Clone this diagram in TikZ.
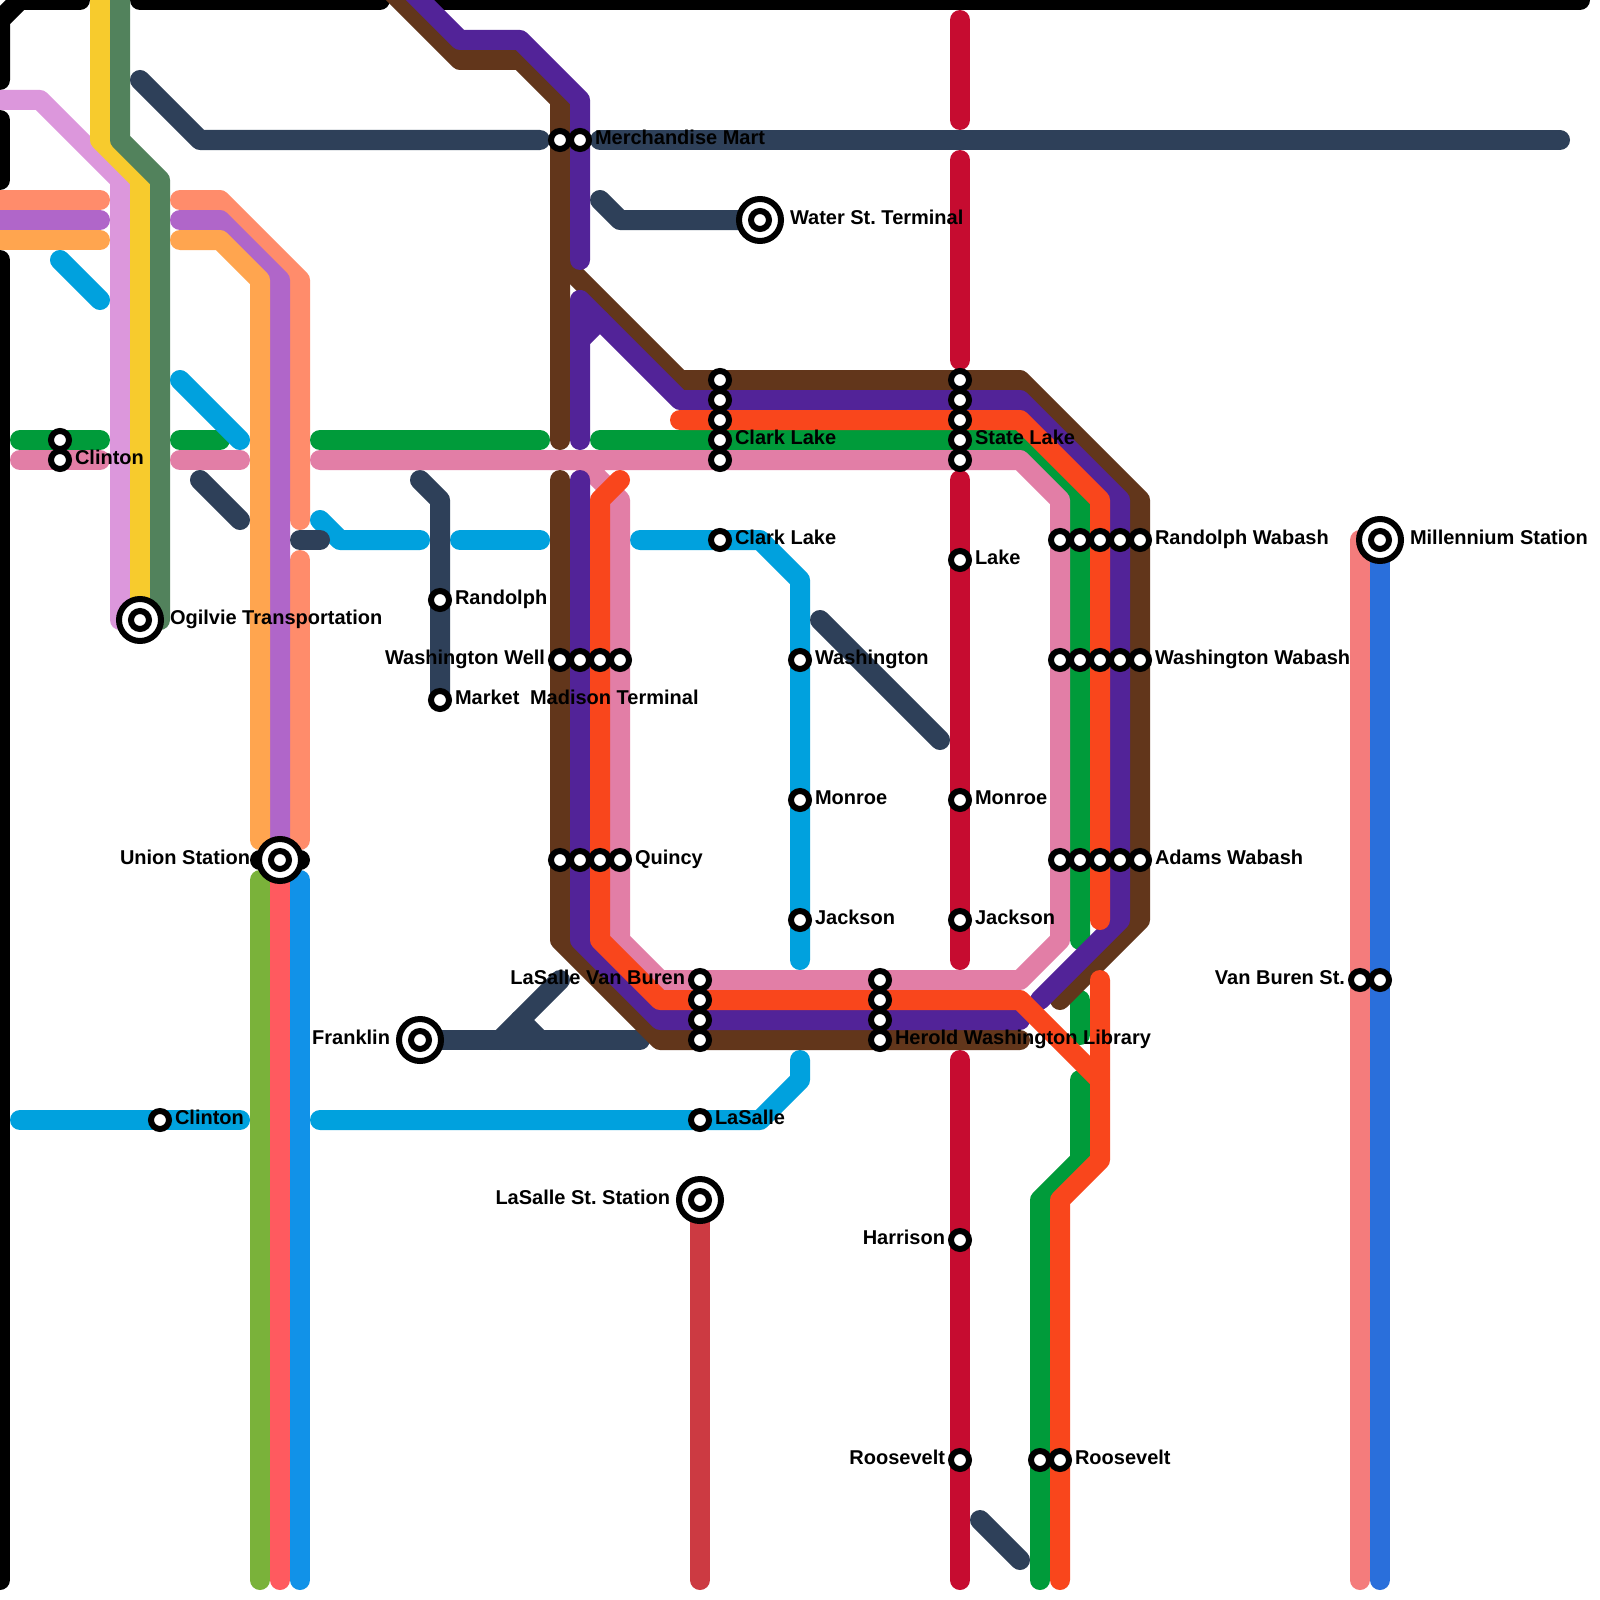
\documentclass[tikz,border=0pt]{standalone}
\usepackage{fontspec}
\setmainfont{Liberation Sans}
\definecolor{cYellow}{HTML}{F7CB2D}
\definecolor{cSage}{HTML}{52825C}
\definecolor{cPlum}{HTML}{DC97DC}
\definecolor{cCoral}{HTML}{FF8C6B}
\definecolor{cOrchid}{HTML}{B066C9}
\definecolor{cTan}{HTML}{FFA54F}
\definecolor{cSky}{HTML}{00A1DE}
\definecolor{cNavy}{HTML}{2E4059}
\definecolor{cBrown}{HTML}{62361B}
\definecolor{cPurple}{HTML}{522398}
\definecolor{cOrange}{HTML}{F9461C}
\definecolor{cGreen}{HTML}{009B3A}
\definecolor{cPink}{HTML}{E27EA6}
\definecolor{cRed}{HTML}{C60C30}
\definecolor{cOlive}{HTML}{7AB23A}
\definecolor{cRose}{HTML}{FF5A5F}
\definecolor{cAzure}{HTML}{1192E8}
\definecolor{cSalmon}{HTML}{F47C7C}
\definecolor{cCobalt}{HTML}{2A6FDB}
\definecolor{cBrick}{HTML}{CC3A42}
\tikzset{
  rail/.style={line width=10pt,line cap=round,line join=round},
  stnsmall/.style={circle,draw=black,fill=white,line width=3pt,minimum size=9pt,inner sep=0pt,outer sep=0pt},
  stnbig/.style={circle,draw=black,fill=white,line width=3pt,minimum size=21pt,inner sep=0pt,outer sep=0pt},
  lbl/.style={inner sep=0pt,outer sep=0pt,text=black,font=\fontsize{10}{12}\selectfont\bfseries\frenchspacing},
  lr/.style={lbl,anchor=base west},
  ll/.style={lbl,anchor=base east},
}
\def\smallstations{clintonA/60/440,clintonB/60/460,clintonC/160/1120,
merchA/560/140,merchB/580/140,
clarkA/720/380,clarkB/720/400,clarkC/720/420,clarkD/720/440,clarkE/720/460,clarkF/720/540,
stateA/960/380,stateB/960/400,stateC/960/420,stateD/960/440,stateE/960/460,
lake/960/560,randolph/440/600,market/440/700,
wellA/560/660,wellB/580/660,wellC/600/660,wellD/620/660,
quincyA/560/860,quincyB/580/860,quincyC/600/860,quincyD/620/860,
washB/800/660,monroeB/800/800,jacksonB/800/920,
monroeR/960/800,jacksonR/960/920,harrison/960/1240,rooseveltR/960/1460,
rooseveltA/1040/1460,rooseveltB/1060/1460,
rwA/1060/540,rwB/1080/540,rwC/1100/540,rwD/1120/540,rwE/1140/540,
wwA/1060/660,wwB/1080/660,wwC/1100/660,wwD/1120/660,wwE/1140/660,
awA/1060/860,awB/1080/860,awC/1100/860,awD/1120/860,awE/1140/860,
lvA/700/980,lvB/700/1000,lvC/700/1020,lvD/700/1040,
hwA/880/980,hwB/880/1000,hwC/880/1020,hwD/880/1040,
lasalle/700/1120,vanA/1360/980,vanB/1380/980}
\def\bigstations{ogilvie/140/620,union/280/860,water/760/220,franklin/420/1040,lasallest/700/1200,millennium/1380/540}
\begin{document}
\begin{tikzpicture}[x=0.5pt,y=-0.5pt]
\path[use as bounding box,clip] (0,0) rectangle (1600,1600);
\fill[white] (0,0) rectangle (1600,1600);
\foreach \id/\px/\py in \smallstations {\coordinate (\id) at (\px,\py);}
\foreach \id/\px/\py in \bigstations {\coordinate (\id) at (\px,\py);}
% black frame
\draw[rail,black] (0,80)--(0,20)--(20,0)--(80,0);
\draw[rail,black] (0,120)--(0,180);
\draw[rail,black] (0,260)--(0,1580);
\draw[rail,black] (140,0)--(380,0);
\draw[rail,black] (420,0)--(1580,0);
% north-west trio
\draw[rail,cPlum] (0,100)--(40,100)--(120,180)--(120,620);
\draw[rail,cYellow] (100,-20)--(100,140)--(140,180)--(ogilvie);
\draw[rail,cSage] (120,-20)--(120,140)--(160,180)--(160,620);
% west trio
\draw[rail,cCoral] (-20,200)--(100,200);
\draw[rail,cOrchid] (-20,220)--(100,220);
\draw[rail,cTan] (-20,240)--(100,240);
\draw[rail,cCoral] (180,200)--(220,200)--(300,280)--(300,520);
\draw[rail,cCoral] (300,560)--(300,840);
\draw[rail,cOrchid] (180,220)--(220,220)--(280,280)--(280,840);
\draw[rail,cTan] (180,240)--(220,240)--(260,280)--(260,840);
\draw[rail,black] (260,860)--(300,860);
\draw[rail,cOlive] (260,880)--(260,1580);
\draw[rail,cRose] (280,880)--(280,1580);
\draw[rail,cAzure] (300,880)--(300,1580);
% sky
\draw[rail,cSky] (60,260)--(100,300);
\draw[rail,cGreen] (180,440)--(220,440);
\draw[rail,cSky] (180,380)--(240,440);
\draw[rail,cSky] (320,520)--(340,540)--(420,540);
\draw[rail,cSky] (460,540)--(540,540);
\draw[rail,cSky] (640,540)--(clarkF)--(760,540)--(800,580)--(washB)--(monroeB)--(jacksonB)--(800,960);
\draw[rail,cSky] (800,1060)--(800,1080)--(760,1120)--(lasalle)--(320,1120);
\draw[rail,cSky] (20,1120)--(clintonC)--(240,1120);
% navy
\draw[rail,cNavy] (140,80)--(200,140)--(540,140);
\draw[rail,cNavy] (600,140)--(1560,140);
\draw[rail,cNavy] (600,200)--(620,220)--(water);
\draw[rail,cNavy] (200,480)--(240,520);
\draw[rail,cNavy] (300,540)--(320,540);
\draw[rail,cNavy] (420,480)--(440,500)--(randolph)--(market);
\draw[rail,cNavy] (820,620)--(940,740);
\draw[rail,cNavy] (980,1520)--(1020,1560);
\draw[rail,cNavy] (franklin)--(640,1040);
\draw[rail,cNavy] (560,980)--(500,1040);
\draw[rail,cNavy] (520,1020)--(540,1040);
% green
\draw[rail,cGreen] (20,440)--(100,440);
\draw[rail,cGreen] (320,440)--(540,440);
\draw[rail,cGreen] (600,440)--(1020,440)--(1080,500)--(1080,940);
\draw[rail,cGreen] (1080,1000)--(1080,1035);
\draw[rail,cGreen] (1080,1080)--(1080,1160)--(1040,1200)--(1040,1580);
% pink
\draw[rail,cPink] (20,460)--(100,460);
\draw[rail,cPink] (180,460)--(240,460);
\draw[rail,cPink] (320,460)--(1020,460)--(1060,500)--(1060,940)--(1020,980)--(660,980)--(620,940)--(620,500)--(580,460);
% red
\draw[rail,cRed] (960,20)--(960,120);
\draw[rail,cRed] (960,160)--(960,360);
\draw[rail,cRed] (960,480)--(lake)--(monroeR)--(jacksonR)--(960,960);
\draw[rail,cRed] (960,1060)--(harrison)--(rooseveltR)--(960,1580);
% brown
\draw[rail,cBrown] (380,-20)--(460,60)--(520,60)--(560,100)--(560,440);
\draw[rail,cBrown] (560,260)--(680,380)--(1020,380)--(1140,500)--(1140,920)--(1060,1000);
\draw[rail,cBrown] (560,480)--(560,940)--(660,1040)--(1020,1040);
% purple
\draw[rail,cPurple] (400,-20)--(460,40)--(520,40)--(580,100)--(580,260);
\draw[rail,cPurple] (580,440)--(580,300)--(680,400)--(1020,400)--(1120,500)--(1120,920)--(1040,1000);
\draw[rail,cPurple] (580,340)--(600,320);
\draw[rail,cPurple] (580,480)--(580,940)--(660,1020)--(1020,1020);
% orange
\draw[rail,cOrange] (680,420)--(1020,420)--(1100,500)--(1100,920);
\draw[rail,cOrange] (620,480)--(600,500)--(600,940)--(660,1000)--(1020,1000)--(1100,1080);
\draw[rail,cOrange] (1100,980)--(1100,1160)--(1060,1200)--(1060,1580);
% east pair and south
\draw[rail,cSalmon] (1360,540)--(vanA)--(1360,1580);
\draw[rail,cCobalt] (millennium)--(vanB)--(1380,1580);
\draw[rail,cBrick] (lasallest)--(700,1580);
% stations
\foreach \id/\px/\py in \smallstations {\node[stnsmall] (s\id) at (\id) {};}
\foreach \id/\px/\py in \bigstations {\node[stnbig] (b\id) at (\id) {}; \node[stnsmall] (c\id) at (\id) {};}
% labels
\node[lr] (tClintonN) at ([shift={(15,4.5)}]clintonB) {Clinton};
\node[lr] (tClintonS) at ([shift={(15,4.5)}]clintonC) {Clinton};
\node[lr] (tMerch) at ([shift={(15,4.5)}]merchB) {Merchandise Mart};
\node[lr] (tClark) at ([shift={(15,4.5)}]clarkD) {Clark Lake};
\node[lr] (tClarkF) at ([shift={(15,4.5)}]clarkF) {Clark Lake};
\node[lr] (tState) at ([shift={(15,4.5)}]stateD) {State Lake};
\node[lr] (tLake) at ([shift={(15,4.5)}]lake) {Lake};
\node[lr] (tRandolph) at ([shift={(15,4.5)}]randolph) {Randolph};
\node[lr] (tMarket) at ([shift={(15,4.5)}]market) {Market};
\node[ll] (tWell) at ([shift={(-15,4.5)}]wellA) {Washington Well};
\node[lr] (tMadison) at (530,704.5) {Madison Terminal};
\node[lr] (tQuincy) at ([shift={(15,4.5)}]quincyD) {Quincy};
\node[lr] (tWash) at ([shift={(15,4.5)}]washB) {Washington};
\node[lr] (tMonroeB) at ([shift={(15,4.5)}]monroeB) {Monroe};
\node[lr] (tJacksonB) at ([shift={(15,4.5)}]jacksonB) {Jackson};
\node[lr] (tMonroeR) at ([shift={(15,4.5)}]monroeR) {Monroe};
\node[lr] (tJacksonR) at ([shift={(15,4.5)}]jacksonR) {Jackson};
\node[ll] (tHarrison) at ([shift={(-15,4.5)}]harrison) {Harrison};
\node[ll] (tRooseveltR) at ([shift={(-15,4.5)}]rooseveltR) {Roosevelt};
\node[lr] (tRoosevelt) at ([shift={(15,4.5)}]rooseveltB) {Roosevelt};
\node[lr] (tRW) at ([shift={(15,4.5)}]rwE) {Randolph Wabash};
\node[lr] (tWW) at ([shift={(15,4.5)}]wwE) {Washington Wabash};
\node[lr] (tAW) at ([shift={(15,4.5)}]awE) {Adams Wabash};
\node[ll] (tLV) at ([shift={(-15,4.5)}]lvA) {LaSalle Van Buren};
\node[lr] (tHW) at ([shift={(15,4.5)}]hwD) {Herold Washington Library};
\node[lr] (tLaSalle) at ([shift={(15,4.5)}]lasalle) {LaSalle};
\node[ll] (tVan) at ([shift={(-15,4.5)}]vanA) {Van Buren St.};
\node[lr] (tOgilvie) at ([shift={(30,4.5)}]ogilvie) {Ogilvie Transportation};
\node[ll] (tUnion) at ([shift={(-30,4.5)}]union) {Union Station};
\node[lr] (tWater) at ([shift={(30,4.5)}]water) {Water St. Terminal};
\node[ll] (tFranklin) at ([shift={(-30,4.5)}]franklin) {Franklin};
\node[ll] (tLaSalleSt) at ([shift={(-30,4.5)}]lasallest) {LaSalle St. Station};
\node[lr] (tMillennium) at ([shift={(30,4.5)}]millennium) {Millennium Station};
\end{tikzpicture}
\end{document}
